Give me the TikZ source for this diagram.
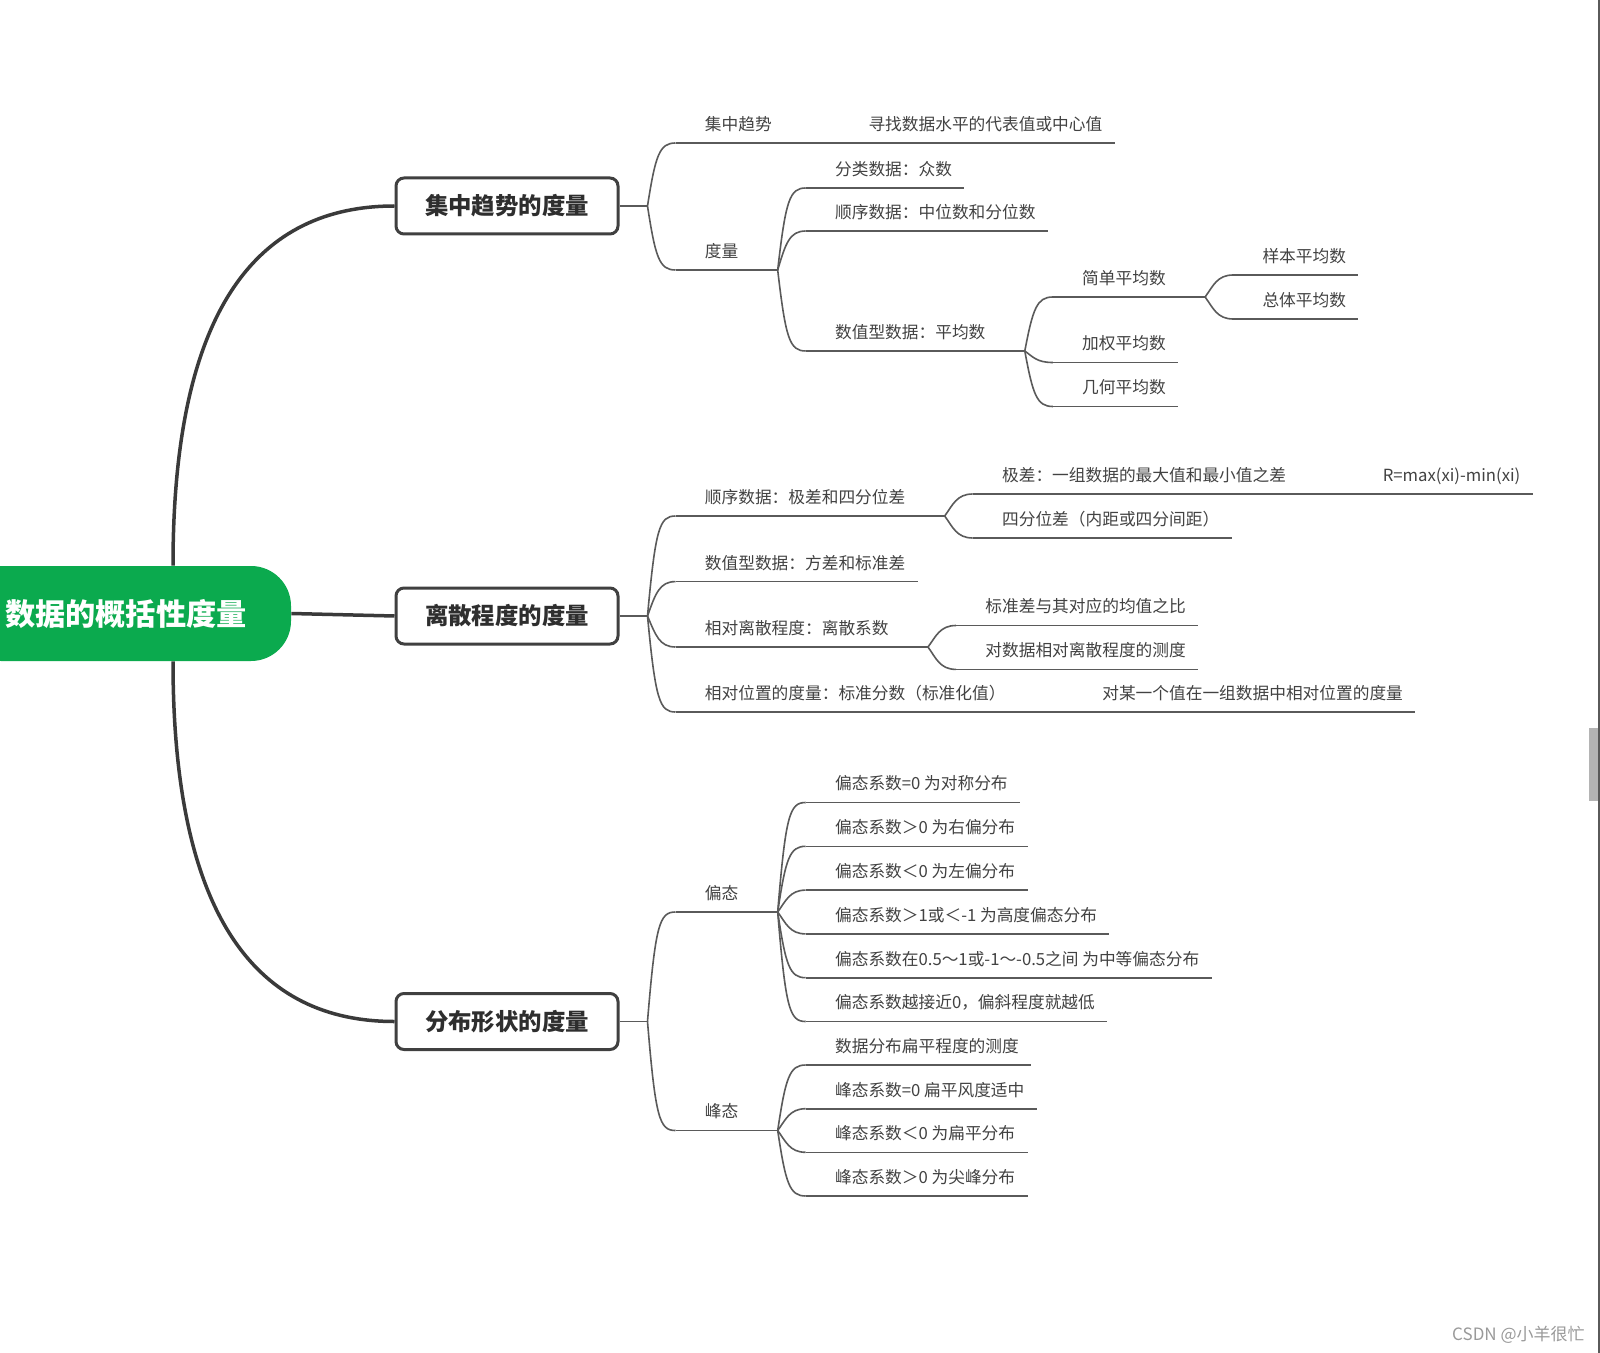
\documentclass[tikz,border=0pt]{standalone}
\usepackage{fontspec}
\setmainfont{Noto Sans CJK SC}
\usetikzlibrary{calc,positioning}
\definecolor{mindgreen}{HTML}{0BAA4E}
\definecolor{rootgray}{HTML}{3A3A3A}
\definecolor{boxgray}{HTML}{404040}
\definecolor{linegray}{HTML}{5A5A5A}
\definecolor{txtgray}{HTML}{424242}
\definecolor{titlegray}{HTML}{2E2E2E}
\definecolor{wmgray}{HTML}{9A9A9A}
\definecolor{barfill}{HTML}{B4B4B4}
\newcommand\leaffont{\fontsize{8.35pt}{10pt}\selectfont}
\newcommand\lvlfont{\bfseries\fontsize{11.7pt}{14pt}\selectfont}
\newcommand\rootlabelfont{\bfseries\fontsize{15.1pt}{18pt}\selectfont}
\tikzset{
  link/.style={draw=linegray, line width=0.8pt},
  rootlink/.style={draw=rootgray, line width=1.75pt},
  branch/.style={to path={
    let \p1=(\tikztostart), \p2=(\tikztotarget),
        \n1={0.5*min(abs(\y2-\y1),12)*sign(\y2-\y1)} in
    .. controls (\x1+4pt,\y2-\n1) and (\x1+6pt,\y2) .. (\tikztotarget)}},
  leaf/.style={
    anchor=south west, inner xsep=0pt, inner ysep=5.07pt,
    font=\leaffont, text=txtgray, text height=7.35pt, text depth=1pt,
    execute at begin node={\hspace*{14.5pt}},
    execute at end node={\hspace*{6pt}},
    append after command={\pgfextra{\let\ulnode\tikzlastnode}
      (\ulnode.south west) edge[link] (\ulnode.south east)}
  },
  hub/.style={leaf, execute at end node={\hspace*{13.5pt}}},
  lvlbox/.style={
    rectangle, draw=boxgray, fill=white, line width=1.5pt,
    rounded corners=4pt, minimum width=111pt, minimum height=28pt,
    inner sep=0pt, font=\lvlfont, text=titlegray,
    text height=10.3pt, text depth=1.4pt
  },
  rootnode/.style={
    rectangle, fill=mindgreen, rounded corners=20pt,
    minimum width=165pt, minimum height=47.5pt, inner sep=0pt,
    font=\rootlabelfont, text=white, text height=13.3pt, text depth=1.8pt
  },
  wmtext/.style={font=\fontsize{8.5pt}{10pt}\selectfont, text=wmgray, inner sep=0pt},
}

\begin{document}
\begin{tikzpicture}[x=0.5pt, y=-0.5pt]
  \useasboundingbox (0,0) rectangle (1600,1353);
  \fill[white] (0,0) rectangle (1600,1353);
  \clip (0,0) rectangle (1600,1353);

  % ── Root and first level ────────────────
  \node[rootnode] (root) at (126,613.5) {数据的概括性度量};
  \node[lvlbox] (g1) at (507,206) {集中趋势的度量};
  \node[lvlbox] (g2) at (507,616) {离散程度的度量};
  \node[lvlbox] (g3) at (507,1021.5) {分布形状的度量};
  \draw[rootlink] ($(root.north)+(47,0)$)
    .. controls +(0,-260) and +(-135,0) .. (g1.west);
  \draw[rootlink] (root.east) -- (g2.west);
  \draw[rootlink] ($(root.south)+(47,0)$)
    .. controls +(0,260) and +(-135,0) .. (g3.west);

  \coordinate (j1) at ($(g1.east)+(28,0)$);
  \coordinate (j2) at ($(g2.east)+(28,0)$);
  \coordinate (j3) at ($(g3.east)+(28,0)$);
  \draw[link] (g1.east) -- (j1);
  \draw[link] (g2.east) -- (j2);
  \draw[link] (g3.east) -- (j3);

  % ── 集中趋势的度量 ────────────────
  \node[hub] (a1) at ($(j1)+(28,-63)$) {集中趋势};
  \node[leaf] (a1x) at ($(a1.south east)+(28,0)$) {寻找数据水平的代表值或中心值};
  \node[hub] (a2) at ($(j1)+(28,64)$) {度量};
  \node[leaf] (a21) at ($(a2.south east)+(28,-82)$) {分类数据：众数};
  \node[leaf] (a22) at ($(a2.south east)+(28,-39)$) {顺序数据：中位数和分位数};
  \node[hub] (a23) at ($(a2.south east)+(28,81)$) {数值型数据：平均数};
  \node[hub] (a231) at ($(a23.south east)+(28,-54)$) {简单平均数};
  \node[leaf] (a2311) at ($(a231.south east)+(28,-22)$) {样本平均数};
  \node[leaf] (a2312) at ($(a231.south east)+(28,22)$) {总体平均数};
  \node[leaf] (a232) at ($(a23.south east)+(28,11.5)$) {加权平均数};
  \node[leaf] (a233) at ($(a23.south east)+(28,55.5)$) {几何平均数};
  \draw[link] (j1) to[branch] (a1.south west);
  \draw[link] (a1.south east) -- (a1x.south west);
  \draw[link] (j1) to[branch] (a2.south west);
  \draw[link] (a2.south east) to[branch] (a21.south west);
  \draw[link] (a2.south east) to[branch] (a22.south west);
  \draw[link] (a2.south east) to[branch] (a23.south west);
  \draw[link] (a23.south east) to[branch] (a231.south west);
  \draw[link] (a231.south east) to[branch] (a2311.south west);
  \draw[link] (a231.south east) to[branch] (a2312.south west);
  \draw[link] (a23.south east) to[branch] (a232.south west);
  \draw[link] (a23.south east) to[branch] (a233.south west);

  % ── 离散程度的度量 ────────────────
  \node[hub] (b1) at ($(j2)+(28,-100)$) {顺序数据：极差和四分位差};
  \node[hub] (b11) at ($(b1.south east)+(28,-22)$) {极差：一组数据的最大值和最小值之差};
  \node[leaf] (b11x) at ($(b11.south east)+(28,0)$) {R=max(xi)-min(xi)};
  \node[leaf] (b12) at ($(b1.south east)+(28,22)$) {四分位差（内距或四分间距）};
  \node[leaf] (b2) at ($(j2)+(28,-34.4)$) {数值型数据：方差和标准差};
  \node[hub] (b3) at ($(j2)+(28,31)$) {相对离散程度：离散系数};
  \node[leaf] (b31) at ($(b3.south east)+(28,-21.5)$) {标准差与其对应的均值之比};
  \node[leaf] (b32) at ($(b3.south east)+(28,22.4)$) {对数据相对离散程度的测度};
  \node[hub] (b4) at ($(j2)+(28,96)$) {相对位置的度量：标准分数（标准化值）};
  \node[leaf] (b4x) at ($(b4.south east)+(28,0)$) {对某一个值在一组数据中相对位置的度量};
  \draw[link] (j2) to[branch] (b1.south west);
  \draw[link] (b1.south east) to[branch] (b11.south west);
  \draw[link] (b11.south east) -- (b11x.south west);
  \draw[link] (b1.south east) to[branch] (b12.south west);
  \draw[link] (j2) to[branch] (b2.south west);
  \draw[link] (j2) to[branch] (b3.south west);
  \draw[link] (b3.south east) to[branch] (b31.south west);
  \draw[link] (b3.south east) to[branch] (b32.south west);
  \draw[link] (j2) to[branch] (b4.south west);
  \draw[link] (b4.south east) -- (b4x.south west);

  % ── 分布形状的度量 ────────────────
  \node[hub] (c1) at ($(j3)+(28,-109.5)$) {偏态};
  \node[leaf] (c11) at ($(c1.south east)+(28,-109.5)$) {偏态系数=0 为对称分布};
  \node[leaf] (c12) at ($(c1.south east)+(28,-65.7)$) {偏态系数＞0 为右偏分布};
  \node[leaf] (c13) at ($(c1.south east)+(28,-21.9)$) {偏态系数＜0 为左偏分布};
  \node[leaf] (c14) at ($(c1.south east)+(28,21.9)$) {偏态系数＞1或＜-1 为高度偏态分布};
  \node[leaf] (c15) at ($(c1.south east)+(28,65.7)$) {偏态系数在0.5～1或-1～-0.5之间 为中等偏态分布};
  \node[leaf] (c16) at ($(c1.south east)+(28,109.5)$) {偏态系数越接近0，偏斜程度就越低};
  \node[hub] (c2) at ($(j3)+(28,109)$) {峰态};
  \node[leaf] (c21) at ($(c2.south east)+(28,-65.5)$) {数据分布扁平程度的测度};
  \node[leaf] (c22) at ($(c2.south east)+(28,-21.8)$) {峰态系数=0 扁平风度适中};
  \node[leaf] (c23) at ($(c2.south east)+(28,21.8)$) {峰态系数＜0 为扁平分布};
  \node[leaf] (c24) at ($(c2.south east)+(28,65.5)$) {峰态系数＞0 为尖峰分布};
  \draw[link] (j3) to[branch] (c1.south west);
  \draw[link] (c1.south east) to[branch] (c11.south west);
  \draw[link] (c1.south east) to[branch] (c12.south west);
  \draw[link] (c1.south east) to[branch] (c13.south west);
  \draw[link] (c1.south east) to[branch] (c14.south west);
  \draw[link] (c1.south east) to[branch] (c15.south west);
  \draw[link] (c1.south east) to[branch] (c16.south west);
  \draw[link] (j3) to[branch] (c2.south west);
  \draw[link] (c2.south east) to[branch] (c21.south west);
  \draw[link] (c2.south east) to[branch] (c22.south west);
  \draw[link] (c2.south east) to[branch] (c23.south west);
  \draw[link] (c2.south east) to[branch] (c24.south west);

  % ── window edge and watermark ────────────────
  \fill[barfill] (1589,728) rectangle (1599,801);
  \draw[linegray, line width=0.75pt] (1599,0) -- (1599,1353);
  \node[wmtext, anchor=east] (wm) at (1585,1335) {CSDN @小羊很忙};
\end{tikzpicture}
\end{document}
